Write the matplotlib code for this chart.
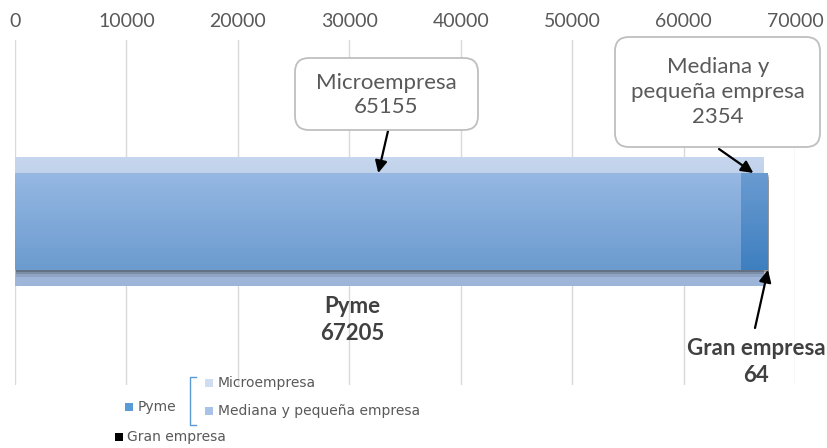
import matplotlib.pyplot as plt
import matplotlib.patheffects as pe
import numpy as np
from matplotlib.colors import LinearSegmentedColormap
from matplotlib.patches import FancyBboxPatch, Rectangle
from matplotlib.lines import Line2D

plt.rcParams['font.family'] = ['Lato', 'DejaVu Sans']

# datos
segmentos = ['Microempresa', 'Mediana y pequeña empresa', 'Gran empresa']
valores = [65155, 2354, 64]
pyme_label = 'Pyme'
pyme_total = 67205
marcas_x = [0, 10000, 20000, 30000, 40000, 50000, 60000, 70000]

W, H = 828, 448
fig = plt.figure(figsize=(W / 100, H / 100), dpi=100)
ax = fig.add_axes([15 / W, 1 - 385 / H, 780 / W, 345 / H])
pix = fig.dpi_scale_trans  # pulgadas desde abajo-izquierda


def p(x, y):
    # pixeles de la imagen (origen arriba) -> pulgadas
    return (x / 100, (H - y) / 100)


def degradado(barra, c_arriba, c_abajo):
    x, y = barra.get_x(), barra.get_y()
    w, h = barra.get_width(), barra.get_height()
    cmap = LinearSegmentedColormap.from_list('g', [c_abajo, c_arriba])
    im = ax.imshow(np.linspace(0, 1, 100).reshape(-1, 1), extent=[x, x + w, y, y + h],
                   origin='lower', cmap=cmap, aspect='auto', zorder=barra.get_zorder() + 0.1)
    im.set_clip_path(barra)


y0 = 0.474
h_fondo = 0.374
h_barra = 0.281

# barra de fondo: Pyme
fondo = ax.barh(y0, pyme_total, height=h_fondo, color='#b3c7e5', zorder=2)[0]
degradado(fondo, '#c6d6ee', '#9db5d9')

# barra apilada
colores = [('#96b8e3', '#6b9bcf'), ('#6a9bd1', '#3e7fc0'), ('#000000', '#000000')]
sombra = [pe.SimplePatchShadow(offset=(1, -5), alpha=0.12, shadow_rgbFace='#202020'),
          pe.SimplePatchShadow(offset=(1, -3), alpha=0.18, shadow_rgbFace='#202020'),
          pe.SimplePatchShadow(offset=(1, -1.5), alpha=0.25, shadow_rgbFace='#202020'),
          pe.Normal()]
izq = 0
for seg, val, (c1, c2) in zip(segmentos, valores, colores):
    b = ax.barh(y0, val, left=izq, height=h_barra, color=c2, zorder=3,
                path_effects=sombra if val > 1000 else None)[0]
    if val > 1000:
        degradado(b, c1, c2)
    izq += val

ax.set_xlim(0, 70000)
ax.set_ylim(0, 1)
ax.xaxis.tick_top()
ax.set_xticks(marcas_x)
ax.tick_params(axis='x', length=0, labelsize=14, labelcolor='#595959', pad=7)
ax.set_yticks([])
for s in ax.spines.values():
    s.set_visible(False)
ax.grid(axis='x', color='#d9d9d9', lw=1)
ax.set_axisbelow(True)

arriba = y0 + h_barra / 2
abajo = y0 - h_barra / 2
flecha = dict(arrowstyle='-|>', color='black', lw=1.6, mutation_scale=18, shrinkA=0, shrinkB=0)

# globos
def globo(x, y, w, h, texto, cx, cy):
    caja = FancyBboxPatch(p(x, y + h), w / 100, h / 100, boxstyle='round,pad=0,rounding_size=0.14',
                          transform=pix, facecolor='white', edgecolor='#bfbfbf', lw=1.3, zorder=5)
    fig.add_artist(caja)
    fig.text(*p(cx, cy), texto, transform=pix, ha='center', va='center', fontsize=16,
             color='#595959', linespacing=1.3, zorder=6)


globo(295, 58, 183, 72, f'{segmentos[0]}\n{valores[0]}', 386, 95)
ax.annotate('', xy=(32600, arriba), xycoords='data', xytext=p(388, 131), textcoords=pix,
            arrowprops=flecha, zorder=6)

globo(615, 37, 205, 110, 'Mediana y\npequeña empresa\n' + str(valores[1]), 718, 92)
ax.annotate('', xy=(valores[0] + valores[1] * 0.47, arriba), xycoords='data', xytext=p(719, 149),
            textcoords=pix, arrowprops=flecha, zorder=6)

# etiquetas en negrita
fig.text(*p(352, 320), f'{pyme_label}\n{pyme_total}', transform=pix, ha='center', va='center',
         fontsize=16, fontweight='bold', color='#404040', linespacing=1.3)
fig.text(*p(756, 362), f'{segmentos[2]}\n{valores[2]}', transform=pix, ha='center', va='center',
         fontsize=16, fontweight='bold', color='#404040', linespacing=1.3)
ax.annotate('', xy=(sum(valores), abajo), xycoords='data', xytext=p(755, 328), textcoords=pix,
            arrowprops=flecha, zorder=6)

# leyenda
def cuadro(x, y, color):
    fig.add_artist(Rectangle(p(x - 4, y + 4), 0.08, 0.08, transform=pix, facecolor=color,
                             edgecolor='none'))


ley = dict(transform=pix, ha='left', va='center', fontsize=10, color='#595959',
           family='DejaVu Sans')
cuadro(129, 407, '#5b9bd5')
fig.text(*p(138, 407), pyme_label, **ley)
fig.add_artist(Line2D([1.96, 1.90, 1.90, 1.96], [(H - 377) / 100, (H - 377) / 100, (H - 425) / 100,
                      (H - 425) / 100], transform=pix, color='#5b9bd5', lw=1))
cuadro(209, 383, '#d0dcef')
fig.text(*p(218, 383), segmentos[0], **ley)
cuadro(209, 411, '#a9c3e6')
fig.text(*p(218, 411), segmentos[1], **ley)
cuadro(119, 437, '#000000')
fig.text(*p(127, 437), segmentos[2], **ley)

fig.savefig('out.png', dpi=100)
